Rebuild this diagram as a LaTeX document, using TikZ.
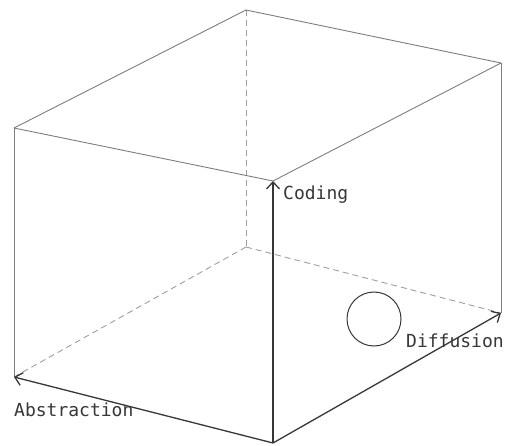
\documentclass[tikz,border=0pt]{standalone}
\usepackage{fontspec}
\setmonofont{DejaVu Sans Mono}
\usetikzlibrary{arrows.meta}
\definecolor{edgegray}{RGB}{125,125,125}
\definecolor{axisgray}{RGB}{55,55,55}

\begin{document}
\begin{tikzpicture}[x=1pt,y=-1pt,
  >={Straight Barb[length=7pt,width=13pt]},
  edge/.style={edgegray,line width=0.9pt},
  hidden/.style={edgegray!75,line width=0.9pt,dash pattern=on 6pt off 4pt},
  axis/.style={->,axisgray,line width=1.3pt},
  lbl/.style={font=\ttfamily\fontsize{18}{21}\selectfont,text=axisgray,
              inner sep=0pt,anchor=base west},
  blob/.style={circle,draw=axisgray,line width=1pt,minimum size=54pt,inner sep=0pt}
]
\useasboundingbox (0,0) rectangle (506,446);
% cube corners
\coordinate (TB) at (246,10);
\coordinate (TL) at (14,128);
\coordinate (TR) at (501,63);
\coordinate (TF) at (273,181);
\coordinate (BB) at (246,247);
\coordinate (BL) at (14,377);
\coordinate (BR) at (501,313);
\coordinate (BF) at (273,443);
% hidden edges
\draw[hidden] (TB) -- (BB);
\draw[hidden] (BB) -- (BL);
\draw[hidden] (BB) -- (BR);
% visible edges
\draw[edge] (TB) -- (TL);
\draw[edge] (TB) -- (TR);
\draw[edge] (TL) -- (TF);
\draw[edge] (TR) -- (TF);
\draw[edge] (TL) -- (BL);
\draw[edge] (TR) -- (BR);
% axes
\draw[axis] (BF) -- (TF);
\draw[axis] (BF) -- (BL);
\draw[axis] (BF) -- (BR);
\node[lbl] (coding) at (283,200) {Coding};
\node[lbl] (abstr)  at (14,416)  {Abstraction};
\node[lbl] (diffu)  at (406,347) {Diffusion};
\node[blob] (dot) at (374,319) {};
\end{tikzpicture}
\end{document}
